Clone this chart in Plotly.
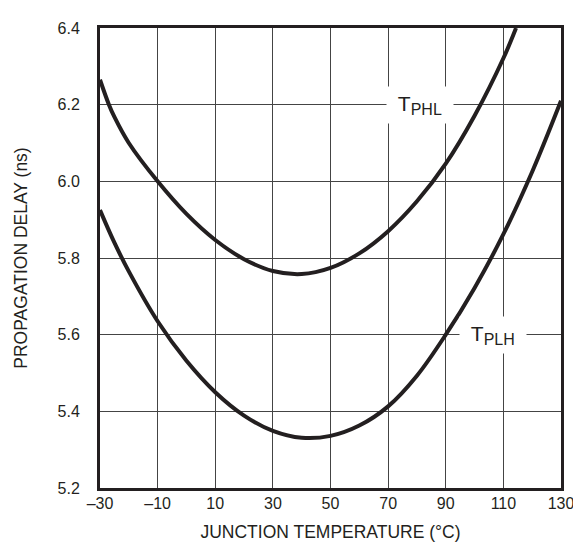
import plotly.graph_objects as go

# Data
tphl_temp = [-30, -27, -25, -20, -10, 0, 10, 20, 30, 40, 50, 60, 70, 80, 90, 100, 110, 114.4]
tphl_delay = [6.265, 6.202, 6.168, 6.10, 6.0, 5.915, 5.847, 5.797, 5.766, 5.758, 5.774, 5.812, 5.870, 5.948, 6.046, 6.171, 6.321, 6.4]

tplh_temp = [-30, -25, -20, -10, 0, 10, 20, 30, 40, 50, 60, 70, 80, 90, 100, 110, 120, 130]
tplh_delay = [5.925, 5.84, 5.765, 5.635, 5.532, 5.450, 5.389, 5.349, 5.331, 5.336, 5.363, 5.413, 5.493, 5.600, 5.722, 5.862, 6.025, 6.21]

x_ticks = [-30, -10, 10, 30, 50, 70, 90, 110, 130]
x_ticktext = ["–30", "–10", "10", "30", "50", "70", "90", "110", "130"]
y_ticks = [5.2, 5.4, 5.6, 5.8, 6.0, 6.2, 6.4]
y_ticktext = ["5.2", "5.4", "5.6", "5.8", "6.0", "6.2", "6.4"]

FONT = "Liberation Sans Narrow, Liberation Sans, Arial, sans-serif"
INK = "#231f20"

fig = go.Figure()
for xs, ys in [(tphl_temp, tphl_delay), (tplh_temp, tplh_delay)]:
    fig.add_trace(go.Scatter(
        x=xs, y=ys, mode="lines",
        line=dict(color=INK, width=4, shape="spline", smoothing=1.0),
        showlegend=False, hoverinfo="skip", cliponaxis=True,
    ))

label_phl = "\u00a0T<sub><span style='font-size:16px'>PHL</span></sub>\u00a0"
label_plh = "\u00a0T<sub><span style='font-size:16px'>PLH</span></sub>\u00a0"
for xv, yv, txt in [(81.0, 6.2, label_phl), (106.4, 5.6, label_plh)]:
    fig.add_annotation(x=xv, y=yv, text=txt, showarrow=False,
                       font=dict(family=FONT, size=21, color=INK),
                       bgcolor="white", borderpad=5, xanchor="center", yanchor="middle")

fig.update_layout(
    width=581, height=544,
    margin=dict(l=92, r=28, t=20, b=64),
    paper_bgcolor="white", plot_bgcolor="white",
    font=dict(family=FONT, size=16, color=INK),
    xaxis=dict(
        range=[-30, 130], tickmode="array", tickvals=x_ticks, ticktext=x_ticktext,
        showgrid=True, gridcolor="#444444", gridwidth=1,
        showline=True, linecolor=INK, linewidth=3, mirror=True,
        ticks="", ticklabelstandoff=-1, zeroline=False,
        title=dict(text="JUNCTION TEMPERATURE (°C)", font=dict(size=17.5), standoff=15),
    ),
    yaxis=dict(
        range=[5.2, 6.4], tickmode="array", tickvals=y_ticks, ticktext=y_ticktext,
        showgrid=True, gridcolor="#444444", gridwidth=1,
        showline=True, linecolor=INK, linewidth=3, mirror=True,
        ticks="", ticklabelstandoff=14, zeroline=False,
        title=dict(text="PROPAGATION DELAY (ns)", font=dict(size=17.5), standoff=26),
    ),
)

fig.write_html("out.html")
